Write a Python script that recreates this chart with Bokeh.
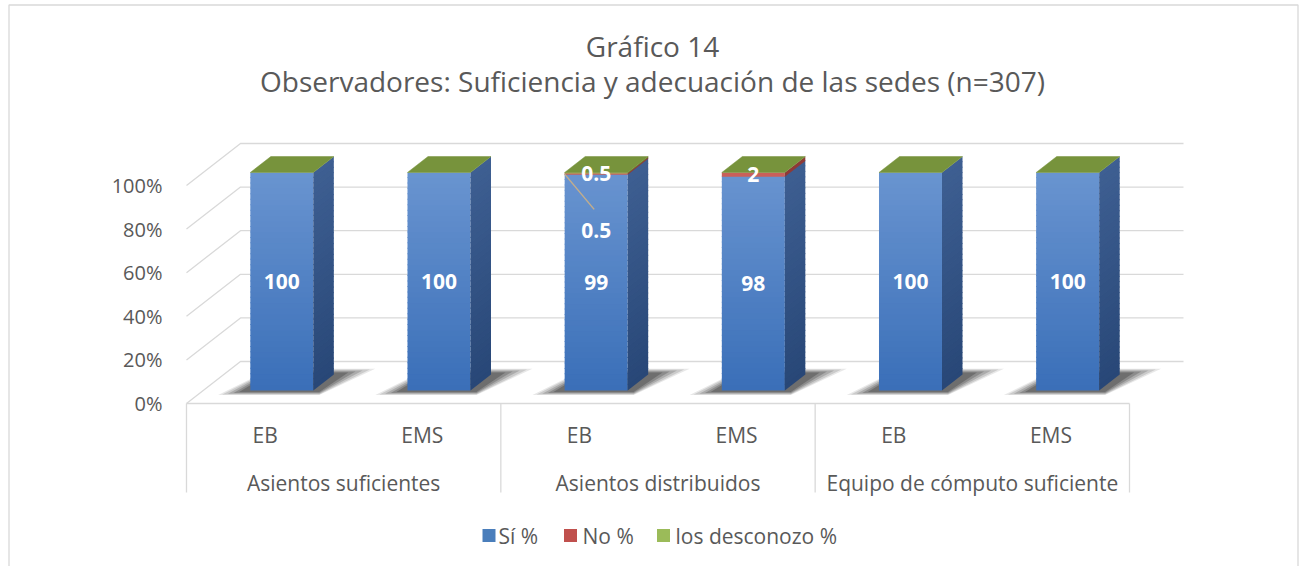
import numpy as np
from bokeh.plotting import figure
from bokeh.models import Range1d
from bokeh.core.properties import value
from bokeh.embed import file_html
from bokeh.resources import INLINE

# ---------------- data ----------------
groups = ["Asientos suficientes", "Asientos distribuidos", "Equipo de cómputo suficiente"]
levels = ["EB", "EMS"]
si_pct = [100, 100, 99, 98, 100, 100]
no_pct = [0, 0, 0.5, 2, 0, 0]
desconozco_pct = [0, 0, 0.5, 0, 0, 0]
series_names = ["Sí %", "No %", "los desconozo %"]
y_ticks = [0, 20, 40, 60, 80, 100]
y_tick_labels = ["0%", "20%", "40%", "60%", "80%", "100%"]
title_lines = ["Gráfico 14", "Observadores: Suficiencia y adecuación de las sedes (n=307)"]

# ---------------- style / layout ----------------
FONT = value("Open Sans")
TXT = "#595959"
GRID = "#d9d9d9"
W, H = 1300, 566
OFF_X, OFF_Y = 0, 0
AX_X0, AX_X1 = 186.0, 1129.0     # page px of category axis ends
AX_Y0, AX_Y100 = 403.0, 185.0    # page px of 0% / 100% on front plane
n_cat = len(groups) * len(levels)
PXX = (AX_X1 - AX_X0) / n_cat
PXY = (AX_Y0 - AX_Y100) / 100.0


def X(px):
    return (px - AX_X0) / PXX


def Y(py):
    return (AX_Y0 - py) / PXY


DEPTH_X = 54 / PXX
DEPTH_Y = 42 / PXY


def proj(x, y, d):
    return x + d * DEPTH_X, y + d * DEPTH_Y


BAR_HW = 31.5 / PXX
D0, D1 = 0.31, 0.69

p = figure(width=W, height=H, output_backend="svg", toolbar_location=None,
           x_range=Range1d(X(OFF_X), X(OFF_X + W)), y_range=Range1d(Y(OFF_Y + H), Y(OFF_Y)),
           x_axis_type=None, y_axis_type=None,
           min_border=0, min_border_left=0, min_border_right=0,
           min_border_top=0, min_border_bottom=0)
p.outline_line_color = None
p.background_fill_color = "white"
p.border_fill_color = "white"

# chart border
p.quad(left=[X(8.5)], right=[X(1297.5)], bottom=[Y(600)], top=[Y(4.5)],
       fill_color=None, line_color=GRID, line_width=1.3)

# ---------------- walls / gridlines ----------------
xs, ys = [], []
for t in y_ticks:
    a = proj(0, t, 0)
    b = proj(0, t, 1)
    c = proj(n_cat, t, 1)
    xs.append([a[0], b[0], c[0]])
    ys.append([a[1], b[1], c[1]])
p.multi_line(xs, ys, line_color=GRID, line_width=1.3)

# category axis line + separators
p.line([0, n_cat], [0, 0], line_color=GRID, line_width=1.3)
sep_bottom = Y(492)
sep_x = [g * len(levels) for g in range(len(groups) + 1)]
p.segment(x0=sep_x, y0=[0] * len(sep_x), x1=sep_x, y1=[sep_bottom] * len(sep_x),
          line_color=GRID, line_width=1.3)

# ---------------- helpers ----------------
def hex2rgb(h):
    h = h.lstrip("#")
    return np.array([int(h[i:i + 2], 16) for i in (0, 2, 4)], dtype=float)


def rgb2hex(c):
    c = np.clip(np.round(c), 0, 255).astype(int)
    return "#%02x%02x%02x" % tuple(c)


def lerp(c0, c1, t):
    return rgb2hex(hex2rgb(c0) * (1 - t) + hex2rgb(c1) * t)


front_cols = {"si": ("#3a6fb8", "#6994d0"), "no": ("#b8443f", "#c9605a"),
              "de": ("#86a845", "#9bbb59")}
side_cols = {"si": ("#284777", "#3e5f92"), "no": ("#7e2c29", "#8e3a36"),
             "de": ("#5a7428", "#6a8632")}
TOP_COL = "#77933c"

# ---------------- shadows ----------------
for scale, alpha in [(1.15, 0.10), (1.0, 0.14), (0.8, 0.18), (0.6, 0.22), (0.4, 0.26)]:
    sx, sy = [], []
    for i in range(n_cat):
        xc = i + 0.5
        fl = proj(xc - BAR_HW, 0, D0)
        fr = proj(xc + BAR_HW, 0, D0)
        br = proj(xc + BAR_HW, 0, D1)
        bl = proj(xc - BAR_HW, 0, D1)
        sx.append([fl[0] - 28 * scale / PXX, fr[0] + 6 / PXX, br[0] + 36 * scale / PXX, bl[0]])
        sy.append([fl[1] - 4 * scale / PXY, fr[1] - 4 * scale / PXY,
                   br[1] + 5 * scale / PXY, bl[1] + 5 * scale / PXY])
    p.patches(sx, sy, fill_color="#1a1a1a", fill_alpha=alpha, line_color=None)

# ---------------- bars ----------------
N_STRIP = 40
OVL = 1.0 / PXY
q_l, q_r, q_b, q_t, q_c = [], [], [], [], []
s_xs, s_ys, s_c = [], [], []
top_xs, top_ys = [], []
labels_x, labels_y, labels_t = [], [], []
lead_x, lead_y = [], []

for i in range(n_cat):
    xc = i + 0.5
    total = si_pct[i] + no_pct[i] + desconozco_pct[i]
    segs = [("si", 0, si_pct[i]),
            ("no", si_pct[i], si_pct[i] + no_pct[i]),
            ("de", si_pct[i] + no_pct[i], total)]
    for key, y0, y1 in segs:
        if y1 <= y0:
            continue
        n = max(1, int(round(N_STRIP * (y1 - y0) / 100.0)))
        edges = np.linspace(y0, y1, n + 1)
        for k in range(n):
            ya, yb = edges[k], edges[k + 1]
            ybo = min(yb + OVL, total)
            t = ((ya + yb) / 2) / total
            fa = proj(xc - BAR_HW, ya, D0)
            fb = proj(xc + BAR_HW, ybo, D0)
            q_l.append(fa[0]); q_r.append(fb[0]); q_b.append(fa[1]); q_t.append(fb[1])
            q_c.append(lerp(front_cols[key][0], front_cols[key][1], t))
            a = proj(xc + BAR_HW, ya, D0)
            b = proj(xc + BAR_HW, ya, D1)
            c = proj(xc + BAR_HW, ybo, D1)
            d = proj(xc + BAR_HW, ybo, D0)
            s_xs.append([a[0], b[0], c[0], d[0]])
            s_ys.append([a[1], b[1], c[1], d[1]])
            s_c.append(lerp(side_cols[key][0], side_cols[key][1], t))
    # top face
    a = proj(xc - BAR_HW, total, D0)
    b = proj(xc + BAR_HW, total, D0)
    c = proj(xc + BAR_HW, total, D1)
    d = proj(xc - BAR_HW, total, D1)
    top_xs.append([a[0], b[0], c[0], d[0]])
    top_ys.append([a[1], b[1], c[1], d[1]])
    # labels
    lx = xc + D0 * DEPTH_X
    for key, y0, y1 in segs:
        v = y1 - y0
        if v <= 0:
            continue
        txt = ("%g" % v)
        ly = (y0 + y1) / 2 + D0 * DEPTH_Y
        if key == "no" and v < 1 and y1 < total:
            # displaced label with leader line
            lab_y = ly - 25.8
            st = proj(xc - BAR_HW, (y0 + y1) / 2, D0)
            lead_x.append([st[0], lx - 2 / PXX])
            lead_y.append([st[1], lab_y + 21 / PXY])
            ly = lab_y
        labels_x.append(lx); labels_y.append(ly); labels_t.append(txt)

p.quad(left=q_l, right=q_r, bottom=q_b, top=q_t, fill_color=q_c, line_color=None)
p.patches(s_xs, s_ys, fill_color=s_c, line_color=None)
p.patches(top_xs, top_ys, fill_color=TOP_COL, line_color=TOP_COL, line_width=0.5)
if lead_x:
    p.multi_line(lead_x, lead_y, line_color="#c2ad8c", line_width=1.5)
p.text(x=labels_x, y=labels_y, text=labels_t, text_color="white", text_font=FONT,
       text_font_size="21px", text_font_style="bold", text_align="center", text_baseline="middle")

# ---------------- y tick labels ----------------
p.text(x=[X(162)] * len(y_ticks), y=y_ticks, text=y_tick_labels, text_color=TXT, text_font=FONT,
       text_font_size="20px", text_align="right", text_baseline="middle")

# ---------------- category labels ----------------
sub_x = [g * len(levels) + j + 0.5 for g in range(len(groups)) for j in range(len(levels))]
sub_t = [lv for g in groups for lv in levels]
p.text(x=sub_x, y=[Y(434)] * len(sub_x), text=sub_t, text_color=TXT, text_font=FONT,
       text_font_size="21px", text_align="center", text_baseline="middle")
grp_x = [g * len(levels) + len(levels) / 2 for g in range(len(groups))]
p.text(x=grp_x, y=[Y(482)] * len(grp_x), text=groups, text_color=TXT, text_font=FONT,
       text_font_size="21px", text_align="center", text_baseline="middle")

# ---------------- title ----------------
p.text(x=[X(652)] * 2, y=[Y(45), Y(80)], text=title_lines, text_color=TXT, text_font=FONT,
       text_font_size="28px", text_align="center", text_baseline="middle")

# ---------------- legend ----------------
leg_sq_px = [488.5, 570, 663]
leg_txt_px = [498, 582, 675]
leg_cols = ["#4a7ebb", "#c0504d", "#9bbb59"]
p.scatter(x=[X(v) for v in leg_sq_px], y=[Y(535)] * 3, marker="square", size=13,
          fill_color=leg_cols, line_color=None)
p.text(x=[X(v) for v in leg_txt_px], y=[Y(535)] * 3, text=series_names, text_color=TXT,
       text_font=FONT, text_font_size="21px", text_align="left", text_baseline="middle")

open("out.html", "w").write(file_html(p, INLINE))
